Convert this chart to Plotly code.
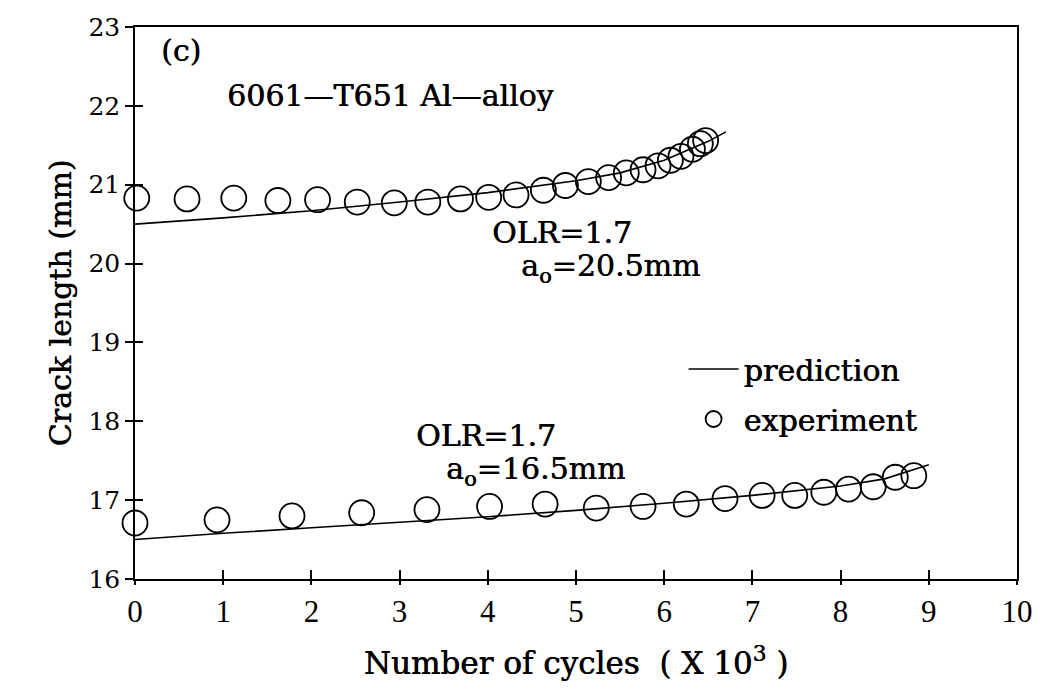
import plotly.graph_objects as go

# Crack growth after overload, 6061-T651 Al-alloy (cycles in thousands, crack length in mm)
exp_hi_cycles = [0.02, 0.59, 1.12, 1.62, 2.07, 2.52, 2.94, 3.32, 3.69, 4.01, 4.32, 4.63, 4.88,
                 5.14, 5.37, 5.57, 5.76, 5.93, 6.07, 6.19, 6.32, 6.41, 6.47]
exp_hi_length = [20.83, 20.82, 20.83, 20.80, 20.81, 20.78, 20.77, 20.78, 20.82, 20.84, 20.87,
                 20.93, 20.99, 21.04, 21.09, 21.15, 21.19, 21.24, 21.31, 21.36, 21.45, 21.52, 21.56]
pred_hi_cycles = [0.0, 1.0, 2.0, 3.0, 4.0, 5.0, 5.5, 6.0, 6.5, 6.7]
pred_hi_length = [20.50, 20.58, 20.67, 20.78, 20.90, 21.05, 21.15, 21.31, 21.55, 21.67]

exp_lo_cycles = [0.0, 0.93, 1.78, 2.57, 3.31, 4.02, 4.65, 5.23, 5.76, 6.25, 6.69, 7.11, 7.48,
                 7.81, 8.09, 8.37, 8.62, 8.83]
exp_lo_length = [16.71, 16.75, 16.80, 16.84, 16.88, 16.92, 16.95, 16.90, 16.92, 16.95, 17.02,
                 17.06, 17.06, 17.10, 17.14, 17.17, 17.29, 17.31]
pred_lo_cycles = [0.0, 1.0, 2.0, 3.0, 4.0, 5.0, 6.0, 7.0, 8.0, 8.5, 9.0]
pred_lo_length = [16.50, 16.58, 16.65, 16.72, 16.79, 16.87, 16.96, 17.06, 17.18, 17.27, 17.45]

x_ticks = list(range(0, 11))
y_ticks = list(range(16, 24))

TEXT_FONT = "DejaVu Serif"
TEXT_SIZE = 30
line_style = dict(color="black", width=1.6)
marker_style = dict(symbol="circle-open", size=25, color="black", line=dict(width=1.8, color="black"))


def text_font(size=TEXT_SIZE):
    # regular serif, thickened a touch with a hairline shadow
    return dict(family=TEXT_FONT, size=size, color="black", shadow="0.6px 0px 0px black")


fig = go.Figure()

fig.add_trace(go.Scatter(x=pred_hi_cycles, y=pred_hi_length, mode="lines", line=line_style,
                         name="prediction", legendgroup="pred", cliponaxis=False))
fig.add_trace(go.Scatter(x=exp_hi_cycles, y=exp_hi_length, mode="markers", marker=marker_style,
                         name="experiment", legendgroup="exp", cliponaxis=False))
fig.add_trace(go.Scatter(x=pred_lo_cycles, y=pred_lo_length, mode="lines", line=line_style,
                         showlegend=False, legendgroup="pred", cliponaxis=False))
fig.add_trace(go.Scatter(x=exp_lo_cycles, y=exp_lo_length, mode="markers", marker=marker_style,
                         showlegend=False, legendgroup="exp", cliponaxis=False))
# carrier for the inward tick marks
fig.add_trace(go.Scatter(x=[None], y=[None], xaxis="x2", yaxis="y2", showlegend=False,
                         hoverinfo="skip"))

axis_common = dict(showgrid=False, zeroline=False, linecolor="black", linewidth=1.5,
                   tickcolor="black", tickwidth=1.5)

fig.update_layout(
    width=1045, height=690,
    margin=dict(l=135, r=25, t=27, b=111),
    paper_bgcolor="white", plot_bgcolor="white",
    font=dict(family=TEXT_FONT, color="black"),
    xaxis=dict(range=[0, 10], tickvals=x_ticks, ticks="outside", ticklen=4, mirror=True,
               tickfont=dict(family="Liberation Serif", size=31, color="black"),
               title=dict(text="Number of cycles  ( X 10<sup>3</sup> )",
                          font=text_font(31), standoff=24),
               **axis_common),
    yaxis=dict(range=[16, 23], tickvals=y_ticks, ticks="outside", ticklen=8, mirror=True,
               tickfont=dict(family=TEXT_FONT, size=25, color="black"),
               title=dict(text="Crack length (mm)", font=text_font(30), standoff=8),
               **axis_common),
    xaxis2=dict(range=[0, 10], tickvals=x_ticks, ticks="inside", ticklen=9, overlaying="x",
                showticklabels=False, showline=False, showgrid=False, zeroline=False,
                tickcolor="black", tickwidth=1.5),
    yaxis2=dict(range=[16, 23], tickvals=y_ticks, ticks="inside", ticklen=8, overlaying="y",
                showticklabels=False, showline=False, showgrid=False, zeroline=False,
                tickcolor="black", tickwidth=1.5),
    legend=dict(x=0.622, y=0.4275, xanchor="left", yanchor="top", bgcolor="rgba(0,0,0,0)",
                font=text_font(30), tracegroupgap=8, itemwidth=50),
    showlegend=True,
)

notes = [
    (0.52, 22.71, "(c)", "center"),
    (1.02, 22.14, "6061\u2014T651 Al\u2014alloy", "left"),
    (4.03, 20.40, "OLR=1.7", "left"),
    (4.35, 19.94, "a<sub>o</sub>=20.5mm", "left"),
    (3.16, 17.82, "OLR=1.7", "left"),
    (3.5, 17.37, "a<sub>o</sub>=16.5mm", "left"),
]
for nx, ny, txt, anchor in notes:
    fig.add_annotation(x=nx, y=ny, text=txt, showarrow=False, xanchor=anchor, yanchor="middle",
                       height=32, font=text_font())

fig.write_html("out.html")
